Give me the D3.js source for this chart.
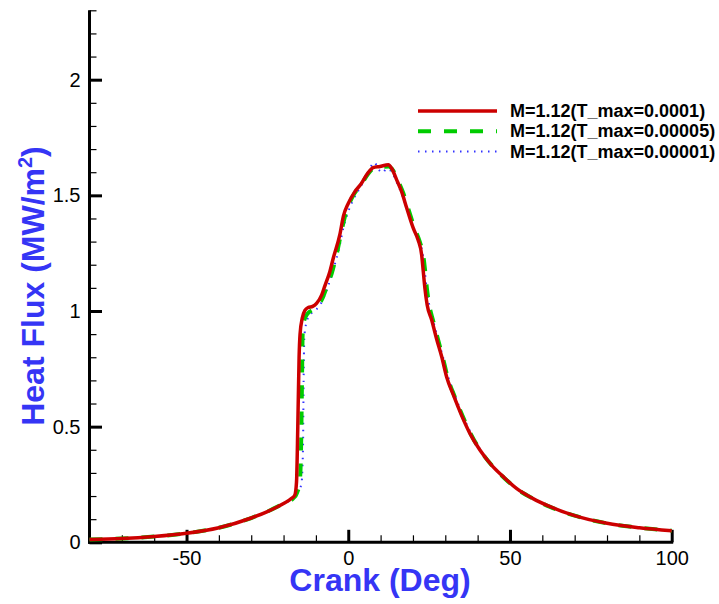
<!DOCTYPE html>
<html>
<head>
    <meta charset="utf-8">
    <title>Heat Flux</title>
    <style>
        body { margin: 0; background: #fff; }
        text { font-family: Arial, "Liberation Sans", sans-serif; }
    </style>
</head>
<body>
<div class="plot_container"></div>
<script src="https://cdn.jsdelivr.net/npm/d3@7/dist/d3.min.js"></script>
<script type="text/javascript">
    // series: M=1.12(T_max=0.0001)
    var crank_a = [-80,-70,-60,-50,-40,-30,-25,-20,-17.5,-16.5,-16,-15.6,-15.2,-14.9,-14.2,-13.4,-12.4,-11,-9.8,-8.2,-7.2,-5.7,-4.6,-2.6,-1.5,0,2,4,6,7.7,9.8,12.4,13.4,15,16.5,18.1,20.1,21.6,22.7,23.2,23.7,24.4,25.8,27.3,28.9,30.4,32.5,35,37.6,40.7,44.3,47.9,52,57,62.4,70,80,90,100];
    var flux_a  = [0.012,0.016,0.025,0.039,0.063,0.105,0.133,0.168,0.19,0.205,0.26,0.5,0.8,0.9,0.97,1.003,1.015,1.02,1.033,1.07,1.11,1.17,1.23,1.33,1.41,1.465,1.515,1.55,1.595,1.62,1.625,1.632,1.617,1.566,1.516,1.444,1.358,1.307,1.242,1.17,1.098,1.026,0.961,0.88,0.802,0.716,0.637,0.55,0.471,0.399,0.334,0.284,0.233,0.19,0.154,0.115,0.082,0.063,0.05];

    // series: M=1.12(T_max=0.00005)
    var crank_b = [-80,-70,-60,-50,-40,-30,-25,-20,-17,-15.8,-15,-14.6,-14.3,-14.1,-13.6,-12.5,-11,-9.5,-8.2,-6.5,-5.1,-3.5,-2,-0.8,0.5,2,4,6,8,10,12.5,14,15.5,17,18.6,20.6,22.1,23.2,23.8,24.3,25,26.3,27.8,29.3,30.8,32.9,35.4,38,41.2,44.8,48.3,52.4,57.2,62.4,70,80,90,100];
    var flux_b  = [0.012,0.016,0.025,0.039,0.063,0.105,0.133,0.168,0.19,0.215,0.26,0.4,0.7,0.9,0.96,0.99,1.005,1.025,1.048,1.11,1.163,1.25,1.35,1.42,1.47,1.51,1.545,1.59,1.618,1.622,1.625,1.605,1.56,1.51,1.44,1.355,1.3,1.24,1.17,1.1,1.03,0.955,0.875,0.795,0.71,0.63,0.545,0.465,0.39,0.326,0.277,0.228,0.188,0.153,0.115,0.082,0.063,0.05];

    // series: M=1.12(T_max=0.00001)
    var crank_c = [-80,-70,-60,-50,-40,-30,-25,-20,-17,-16,-14.5,-14,-13.8,-13.6,-13.1,-12,-10.5,-9,-7.5,-5.7,-4.2,-3,-1.5,0,1.5,3.5,5.5,7,8,9.5,10.5,12,13.5,15,16.7,18.4,20.5,22,23.1,23.7,24.2,25,26.4,27.9,29.5,31,33.1,35.5,38.2,41.3,44.9,48.5,52.5,57.3,62.5,70,80,90,100];
    var flux_c  = [0.012,0.016,0.025,0.039,0.063,0.105,0.133,0.168,0.19,0.21,0.25,0.4,0.7,0.88,0.94,0.98,1.0,1.02,1.06,1.13,1.2,1.26,1.36,1.43,1.48,1.53,1.58,1.625,1.642,1.61,1.598,1.615,1.6,1.555,1.5,1.43,1.35,1.3,1.24,1.17,1.1,1.03,0.95,0.87,0.79,0.71,0.63,0.545,0.465,0.39,0.325,0.276,0.228,0.188,0.153,0.115,0.082,0.063,0.05];

    var legend_labels = ["M=1.12(T_max=0.0001)", "M=1.12(T_max=0.00005)", "M=1.12(T_max=0.00001)"];
    var x_major = [-50, 0, 50, 100];
    var x_minor = [-70, -60, -40, -30, -20, -10, 10, 20, 30, 40, 60, 70, 80, 90];
    var y_major = [0, 0.5, 1, 1.5, 2];
    var y_minor = [0.1, 0.2, 0.3, 0.4, 0.6, 0.7, 0.8, 0.9, 1.1, 1.2, 1.3, 1.4, 1.6, 1.7, 1.8, 1.9, 2.1, 2.2, 2.3];

    var width = 719;
    var height = 604;

    var svg = d3.select(".plot_container").append("svg")
            .attr("width", width)
            .attr("height", height);

    var x = d3.scaleLinear().domain([-80, 100]).range([89.5, 671.7]);
    var y = d3.scaleLinear().domain([0, 2.3]).range([542.3, 10.3]);

    // minor ticks first, then major ticks + labels
    var xMinor = svg.append("g")
            .attr("transform", "translate(0," + y(0) + ")")
            .call(d3.axisBottom(x).tickValues(x_minor).tickSize(-7).tickSizeOuter(0).tickFormat(""));
    var yMinor = svg.append("g")
            .attr("transform", "translate(" + x(-80) + ",0)")
            .call(d3.axisLeft(y).tickValues(y_minor).tickSize(-7).tickSizeOuter(0).tickFormat(""));
    [xMinor, yMinor].forEach(function(g){
        g.select(".domain").remove();
        g.selectAll(".tick line").attr("stroke", "#000").attr("stroke-width", 1.2);
    });

    // plain hyphen for negative numbers, like the original
    var fmt = function(d){ return String(d); };

    var xAxis = svg.append("g")
            .attr("transform", "translate(0," + y(0) + ")")
            .call(d3.axisBottom(x).tickValues(x_major).tickSize(-12.5).tickSizeOuter(0).tickPadding(9).tickFormat(fmt));
    var yAxis = svg.append("g")
            .attr("transform", "translate(" + x(-80) + ",0)")
            .call(d3.axisLeft(y).tickValues(y_major).tickSize(-12.5).tickSizeOuter(0).tickPadding(9).tickFormat(fmt));

    [xAxis, yAxis].forEach(function(g){
        g.select(".domain").attr("stroke", "#000").attr("stroke-width", 3);
        g.selectAll(".tick line").attr("stroke", "#000").attr("stroke-width", 3);
        g.selectAll(".tick text")
            .attr("fill", "#000")
            .style("font-size", "20px")
            .style("font-family", "Arial, 'Liberation Sans', sans-serif");
    });
    // y axis goes up to the top of the frame
    yAxis.select(".domain").attr("d", "M0," + (y(0) + 1.5) + "V" + y(2.3));
    xAxis.select(".domain").attr("d", "M" + (x(-80) - 1.5) + ",0H" + (x(100) + 1.5));

    // curves
    var line = d3.line()
            .x(function(d){ return x(d[0]); })
            .y(function(d){ return y(d[1]); })
            .curve(d3.curveMonotoneX);

    var series = [
        {xs: crank_a, ys: flux_a, color: "#cc0000", width: 3.5, dash: null},
        {xs: crank_b, ys: flux_b, color: "#00cc00", width: 4, dash: "13,13"},
        {xs: crank_c, ys: flux_c, color: "#3333ff", width: 2, dash: "1.5,5.5"}
    ];

    // draw blue and green under red, as in the picture the red sits on top
    [series[2], series[1], series[0]].forEach(function(s){
        var pts = s.xs.map(function(v, i){ return [v, s.ys[i]]; });
        svg.append("path")
            .datum(pts)
            .attr("d", line)
            .attr("fill", "none")
            .attr("stroke", s.color)
            .attr("stroke-width", s.width)
            .attr("stroke-dasharray", s.dash)
            .attr("stroke-linejoin", "round");
    });

    // legend
    var legend = svg.selectAll(".legend")
            .data(series)
            .enter()
            .append("g")
            .attr("class", "legend")
            .attr("transform", function(d, i){ return "translate(0," + (111 + i * 20.3) + ")"; });
    legend.append("line")
            .attr("x1", 418).attr("x2", 497)
            .attr("y1", 0).attr("y2", 0)
            .attr("stroke", function(d){ return d.color; })
            .attr("stroke-width", function(d){ return d.width; })
            .attr("stroke-dasharray", function(d){ return d.dash; });
    legend.append("text")
            .attr("x", 510)
            .attr("y", 6)
            .style("font-size", "18px")
            .style("font-weight", "bold")
            .attr("fill", "#000")
            .text(function(d, i){ return legend_labels[i]; });

    // axis titles
    svg.append("text")
            .attr("x", 380)
            .attr("y", 591)
            .attr("text-anchor", "middle")
            .attr("fill", "#3535f5")
            .style("font-size", "32px")
            .style("font-weight", "bold")
            .text("Crank (Deg)");

    var ytitle = svg.append("text")
            .attr("transform", "translate(44,286) rotate(-90)")
            .attr("text-anchor", "middle")
            .attr("fill", "#3535f5")
            .style("font-size", "32px")
            .style("font-weight", "bold");
    ytitle.append("tspan").text("Heat Flux (MW/m");
    ytitle.append("tspan").attr("dy", -12).style("font-size", "20px").text("2");
    ytitle.append("tspan").attr("dy", 12).text(")");
</script>
</body>
</html>
